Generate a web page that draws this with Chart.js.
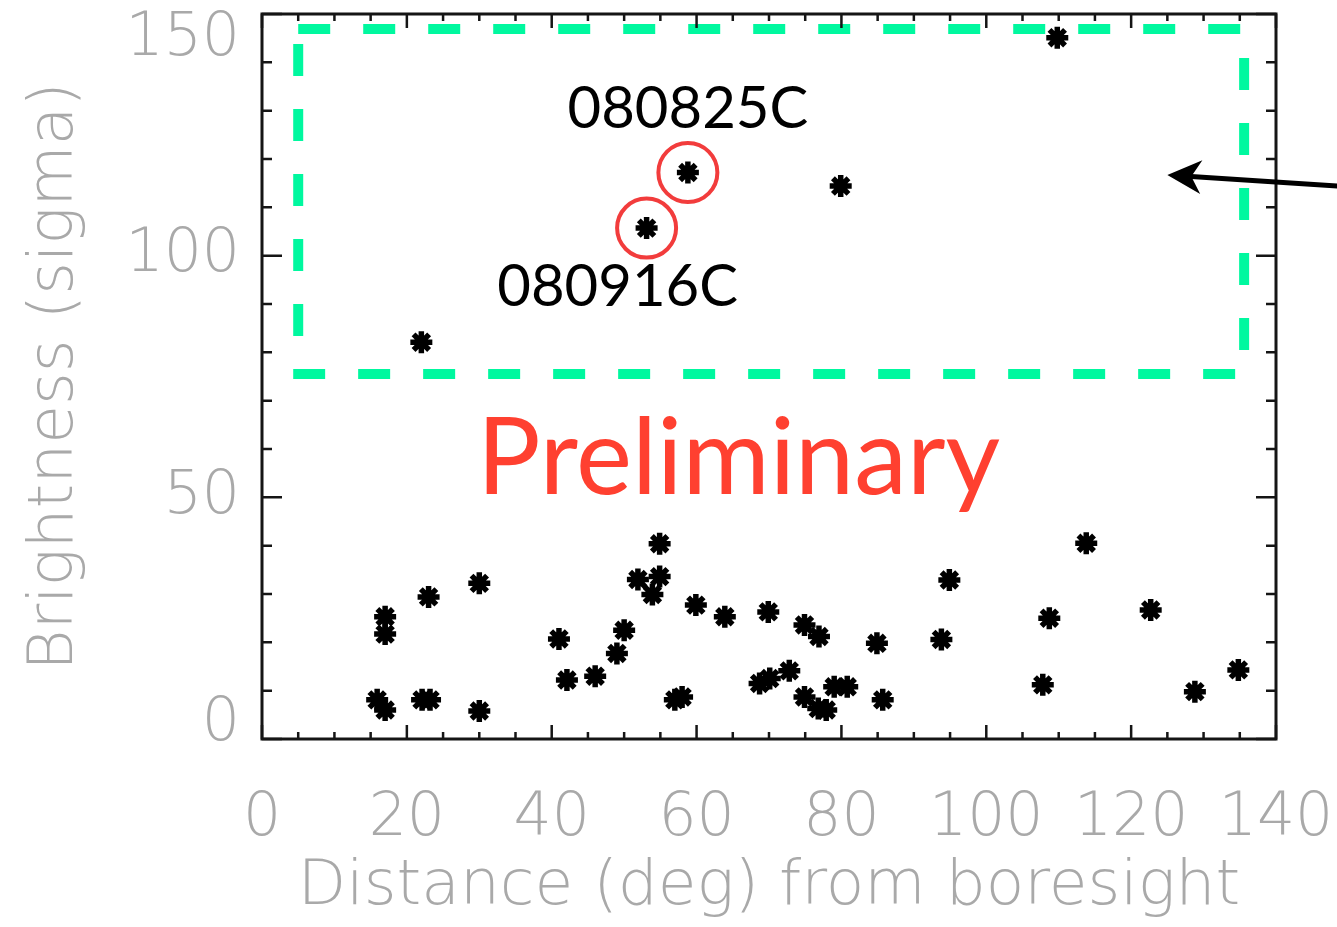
<!DOCTYPE html>
<html>
<head>
<script src="https://cdn.jsdelivr.net/npm/chart.js@4.4.1/dist/chart.umd.min.js"></script>
<style>
  html, body { margin: 0; padding: 0; background: #fff; }
</style>
</head>
<body>
<canvas id="myChart" width="1337" height="927"></canvas>
<script>
// distance from boresight (deg) and brightness (sigma) of each burst
const distance = [
  109.8, 58.8, 53.1, 79.9, 22.0,
  17.0, 17.0, 15.9, 17.0, 23.0, 22.1, 23.2, 30.0, 30.0, 41.0,
  42.1, 46.0, 49.0, 50.0, 51.9, 53.9, 54.9, 54.9, 57.0, 58.0,
  59.9, 63.9, 69.9, 68.7, 70.1, 72.8, 74.9, 74.9, 76.9, 76.8,
  77.9, 79.0, 80.8, 84.9, 85.7, 93.8, 94.9, 107.8, 108.7, 113.8,
  122.7, 128.8, 134.8
];
const brightness = [
  145.1, 117.2, 105.7, 114.4, 82.1,
  25.3, 21.7, 8.1, 6.0, 29.4, 8.1, 8.1, 32.2, 5.8, 20.7,
  12.2, 13.0, 17.7, 22.5, 33.0, 29.9, 33.6, 40.4, 8.1, 8.7,
  27.7, 25.3, 26.3, 11.5, 12.5, 14.1, 8.7, 23.6, 21.2, 6.3,
  6.0, 10.8, 10.8, 19.8, 8.1, 20.6, 32.9, 11.2, 25.0, 40.5,
  26.7, 9.8, 14.3
];

// the two circled bursts
const grbNames = ['080825C', '080916C'];
const grbDistance = [58.8, 53.1];
const grbBrightness = [117.2, 105.7];

const xTickValues = [0, 20, 40, 60, 80, 100, 120, 140];
const yTickValues = [0, 50, 100, 150];

const tickFont = { family: 'DejaVu Sans', size: 60, weight: 200 };
const titleFont = { family: 'DejaVu Sans', size: 63, weight: 200 };
const labelColor = '#a9a9a9';

// overlays (in data units)
const box = { x0: 5.0, x1: 135.6, y0: 75.5, y1: 146.9 };
const arrow = { tipX: 125.0, tipY: 116.7, tailX: 148.6, tailY: 114.4 };
const grbLabelPos = [{ x: 58.8, y: 130.2 }, { x: 49.1, y: 93.4 }];
const prelimPos = { x: 65.8, y: 50.7 };

const framePlugin = {
  id: 'frame',
  beforeDatasetsDraw(chart) {
    const { ctx, scales: { x, y } } = chart;
    ctx.save();
    ctx.strokeStyle = '#00f89f';
    ctx.lineWidth = 10;
    ctx.setLineDash([32, 33]);
    const l = x.getPixelForValue(box.x0), r = x.getPixelForValue(box.x1);
    const t = y.getPixelForValue(box.y1), b = y.getPixelForValue(box.y0);
    ctx.strokeRect(l, t, r - l, b - t);
    ctx.restore();
  },
  afterDraw(chart) {
    const { ctx, chartArea: a, scales: { x, y } } = chart;
    ctx.save();
    // frame and inward ticks
    ctx.strokeStyle = '#151515';
    ctx.lineWidth = 3;
    ctx.strokeRect(a.left, a.top, a.right - a.left, a.bottom - a.top);
    ctx.lineWidth = 2.5;
    ctx.beginPath();
    for (let v = 0; v <= 140; v += 5) {
      const px = x.getPixelForValue(v);
      const len = v % 20 === 0 ? 14 : 7;
      ctx.moveTo(px, a.bottom); ctx.lineTo(px, a.bottom - len);
      ctx.moveTo(px, a.top); ctx.lineTo(px, a.top + len);
    }
    for (let v = 0; v <= 150; v += 10) {
      const py = y.getPixelForValue(v);
      const len = v % 50 === 0 ? 20 : 10;
      ctx.moveTo(a.left, py); ctx.lineTo(a.left + len, py);
      ctx.moveTo(a.right, py); ctx.lineTo(a.right - len, py);
    }
    ctx.stroke();

    // y tick labels, kept inside the axis span
    ctx.fillStyle = labelColor;
    ctx.font = `${tickFont.weight} ${tickFont.size}px ${tickFont.family}`;
    ctx.textAlign = 'right';
    y.ticks.forEach(tk => {
      let py = y.getPixelForValue(tk.value);
      let base = 'middle';
      if (tk.value === y.max) { base = 'top'; py = a.top - 5; }
      if (tk.value === y.min) { base = 'bottom'; py = a.bottom + 15; }
      ctx.textBaseline = base;
      ctx.fillText(String(tk.value), a.left - 22, py);
    });

    // grb labels
    ctx.fillStyle = '#000';
    ctx.textAlign = 'center';
    ctx.textBaseline = 'middle';
    ctx.font = '58px "Gill Sans", Lato, sans-serif';
    grbNames.forEach((name, i) => {
      ctx.fillText(name, x.getPixelForValue(grbLabelPos[i].x), y.getPixelForValue(grbLabelPos[i].y));
    });

    // Preliminary
    ctx.fillStyle = '#ff4030';
    ctx.textBaseline = 'alphabetic';
    ctx.font = '106px "Gill Sans", Lato, sans-serif';
    ctx.fillText('Preliminary', x.getPixelForValue(prelimPos.x), y.getPixelForValue(prelimPos.y));

    // arrow
    const tx = x.getPixelForValue(arrow.tipX), ty = y.getPixelForValue(arrow.tipY);
    const sx = x.getPixelForValue(arrow.tailX), sy = y.getPixelForValue(arrow.tailY);
    const ang = Math.atan2(ty - sy, tx - sx);
    ctx.strokeStyle = '#000';
    ctx.lineWidth = 5;
    ctx.beginPath();
    ctx.moveTo(sx, sy);
    ctx.lineTo(tx - 20 * Math.cos(ang), ty - 20 * Math.sin(ang));
    ctx.stroke();
    ctx.fillStyle = '#000';
    ctx.beginPath();
    ctx.moveTo(tx, ty);
    ctx.lineTo(tx - 34 * Math.cos(ang) + 17 * Math.sin(ang), ty - 34 * Math.sin(ang) - 17 * Math.cos(ang));
    ctx.lineTo(tx - 24 * Math.cos(ang), ty - 24 * Math.sin(ang));
    ctx.lineTo(tx - 34 * Math.cos(ang) - 17 * Math.sin(ang), ty - 34 * Math.sin(ang) + 17 * Math.cos(ang));
    ctx.closePath();
    ctx.fill();
    ctx.restore();
  }
};

new Chart('myChart', {
  type: 'scatter',
  data: {
    datasets: [
      {
        label: 'bursts',
        data: distance.map((d, i) => ({ x: d, y: brightness[i] })),
        pointStyle: 'star',
        radius: 11,
        borderWidth: 5.5,
        borderColor: '#000',
        backgroundColor: '#000'
      },
      {
        label: 'circled',
        data: grbDistance.map((d, i) => ({ x: d, y: grbBrightness[i] })),
        pointStyle: 'circle',
        radius: 29.5,
        borderWidth: 4,
        borderColor: '#f23c3c',
        backgroundColor: 'rgba(0,0,0,0)'
      }
    ]
  },
  options: {
    responsive: false,
    animation: false,
    events: [],
    layout: { autoPadding: false, padding: { left: 0, right: 61, top: 14, bottom: 0 } },
    plugins: { legend: { display: false }, tooltip: { enabled: false } },
    scales: {
      x: {
        type: 'linear',
        min: 0,
        max: 140,
        grid: { display: false, drawTicks: false },
        border: { display: false },
        afterBuildTicks: s => { s.ticks = xTickValues.map(v => ({ value: v })); },
        ticks: { color: labelColor, font: tickFont, padding: 44, maxRotation: 0, autoSkip: false },
        title: {
          display: true,
          text: 'Distance (deg) from boresight',
          color: labelColor,
          font: titleFont,
          padding: { top: 0, bottom: 2 }
        },
        afterFit: s => { s.height = 188; s.paddingLeft = 0; s.paddingRight = 0; }
      },
      y: {
        type: 'linear',
        min: 0,
        max: 150,
        grid: { display: false, drawTicks: false },
        border: { display: false },
        afterBuildTicks: s => { s.ticks = yTickValues.map(v => ({ value: v })); },
        ticks: { display: false },
        title: {
          display: true,
          text: 'Brightness (sigma)',
          color: labelColor,
          font: titleFont,
          padding: { top: 18, bottom: 0 }
        },
        afterFit: s => { s.width = 262; s.paddingTop = 0; s.paddingBottom = 0; }
      }
    }
  },
  plugins: [framePlugin]
});
</script>
</body>
</html>
